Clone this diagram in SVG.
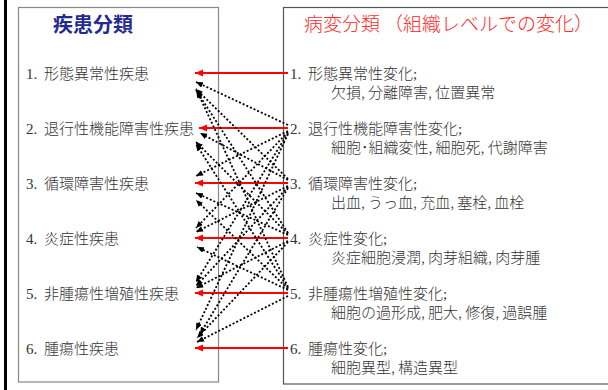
<svg xmlns="http://www.w3.org/2000/svg" width="608" height="390" viewBox="0 0 608 390">
<defs>
<marker id="ah" markerUnits="userSpaceOnUse" markerWidth="8" markerHeight="7" refX="7" refY="3" orient="auto">
<path d="M0,0 L7,3 L0,6 z" fill="#000"/>
</marker>
<marker id="ahr" markerUnits="userSpaceOnUse" markerWidth="9" markerHeight="8" refX="8" refY="3.5" orient="auto">
<path d="M0,0 L8,3.5 L0,7 z" fill="#ff0000"/>
</marker>
</defs>
<style>
.t{font-family:"Liberation Serif","Noto Sans CJK JP",serif;font-size:15px;font-weight:300;fill:#333}
.c{font-family:"Noto Sans CJK JP",sans-serif;font-weight:300}
.box{fill:#fff;stroke:#666;stroke-width:1.2}
.dot{stroke:#000;stroke-width:1.8;stroke-dasharray:2 2;fill:none;marker-end:url(#ah)}
.red{stroke:#ff0000;stroke-width:2.2;fill:none;marker-end:url(#ahr)}
</style>
<rect width="608" height="390" fill="#fff"/>
<line x1="5.5" y1="0" x2="5.5" y2="390" stroke="#000" stroke-width="3"/>
<g id="left-box">
<rect class="box" x="18.5" y="7.5" width="200" height="374.5" style="stroke:#888"/>
<text x="53" y="32" textLength="80" lengthAdjust="spacingAndGlyphs" style="font-family:'Noto Sans CJK JP',sans-serif;font-size:20px;font-weight:bold;fill:#232b8f">疾患分類</text>
</g>
<g id="right-box">
<rect class="box" x="283.5" y="7.5" width="330" height="376.5" style="stroke:#555"/>
<text x="304" y="31" textLength="289" lengthAdjust="spacing" style="font-family:'Noto Sans CJK JP',sans-serif;font-size:19px;font-weight:300;fill:#ff2a2a">病変分類 （組織レベルでの変化）</text>
</g>
<g id="left-items">
<text class="t" x="26" y="79">1.<tspan class="c" x="44">形態異常性疾患</tspan></text>
<text class="t" x="26" y="134">2.<tspan class="c" x="44">退行性機能障害性疾患</tspan></text>
<text class="t" x="26" y="189">3.<tspan class="c" x="44">循環障害性疾患</tspan></text>
<text class="t" x="26" y="244">4.<tspan class="c" x="44">炎症性疾患</tspan></text>
<text class="t" x="26" y="299">5.<tspan class="c" x="44">非腫瘍性増殖性疾患</tspan></text>
<text class="t" x="26" y="354">6.<tspan class="c" x="44">腫瘍性疾患</tspan></text>
</g>
<g id="right-items">
<text class="t" x="290" y="79">1.<tspan class="c" x="308">形態異常性変化</tspan>;</text>
<text class="t c" x="331" y="98">欠損, 分離障害, 位置異常</text>
<text class="t" x="290" y="134">2.<tspan class="c" x="308">退行性機能障害性変化</tspan>;</text>
<text class="t c" x="331" y="153">細胞･組織変性, 細胞死, 代謝障害</text>
<text class="t" x="290" y="189">3.<tspan class="c" x="308">循環障害性変化</tspan>;</text>
<text class="t c" x="331" y="208">出血, うっ血, 充血, 塞栓, 血栓</text>
<text class="t" x="290" y="244">4.<tspan class="c" x="308">炎症性変化</tspan>;</text>
<text class="t c" x="331" y="263">炎症細胞浸潤, 肉芽組織, 肉芽腫</text>
<text class="t" x="290" y="299">5.<tspan class="c" x="308">非腫瘍性増殖性変化</tspan>;</text>
<text class="t c" x="331" y="318">細胞の過形成, 肥大, 修復, 過誤腫</text>
<text class="t" x="290" y="354">6.<tspan class="c" x="308">腫瘍性変化</tspan>;</text>
<text class="t c" x="331" y="373">細胞異型, 構造異型</text>
</g>
<g id="connectors">
<line class="red" x1="288" y1="73" x2="195" y2="73"/>
<line class="red" x1="288" y1="128" x2="199" y2="128"/>
<line class="red" x1="288" y1="183" x2="195" y2="183"/>
<line class="red" x1="288" y1="238" x2="195" y2="238"/>
<line class="red" x1="288" y1="293" x2="195" y2="293"/>
<line class="red" x1="288" y1="348" x2="195" y2="348"/>
<line class="dot" x1="288" y1="125" x2="196" y2="82"/>
<line class="dot" x1="288" y1="131" x2="196" y2="176"/>
<line class="dot" x1="288" y1="132" x2="196" y2="228"/>
<line class="dot" x1="288" y1="133" x2="196" y2="282"/>
<line class="dot" x1="288" y1="134" x2="196" y2="330"/>
<line class="dot" x1="288" y1="179" x2="196" y2="89"/>
<line class="dot" x1="288" y1="180" x2="200" y2="133"/>
<line class="dot" x1="288" y1="186" x2="196" y2="232"/>
<line class="dot" x1="288" y1="187" x2="196" y2="286"/>
<line class="dot" x1="288" y1="188" x2="200" y2="334"/>
<line class="dot" x1="288" y1="233" x2="196" y2="90"/>
<line class="dot" x1="288" y1="234" x2="196" y2="142"/>
<line class="dot" x1="288" y1="235" x2="196" y2="193"/>
<line class="dot" x1="288" y1="241" x2="196" y2="288"/>
<line class="dot" x1="288" y1="242" x2="197" y2="338"/>
<line class="dot" x1="288" y1="287" x2="197" y2="91"/>
<line class="dot" x1="288" y1="288" x2="196" y2="144"/>
<line class="dot" x1="288" y1="289" x2="196" y2="200"/>
<line class="dot" x1="288" y1="290" x2="197" y2="247"/>
<line class="dot" x1="288" y1="296" x2="197" y2="342"/>
</g>
</svg>
